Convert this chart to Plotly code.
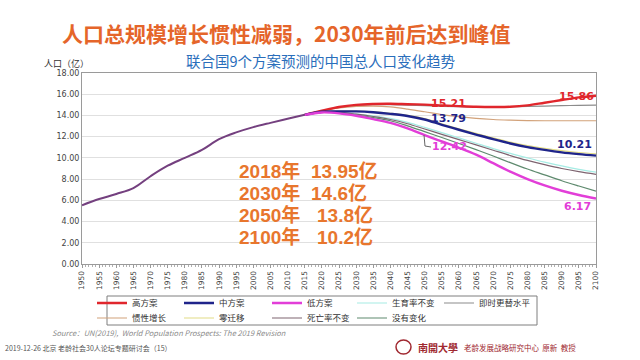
import plotly.graph_objects as go

# ---------------- data ----------------
hist_years = list(range(1950, 2020, 5))
hist_vals = [5.54, 6.12, 6.60, 7.16, 8.27, 9.26, 10.00, 10.75, 11.76, 12.40, 12.90, 13.30, 13.68, 14.06]

proj_years = list(range(2015, 2105, 5))
high = [14.06, 14.45, 14.80, 15.00, 15.08, 15.10, 15.06, 15.02, 14.95, 14.88, 14.82, 14.80, 14.82, 14.95, 15.20, 15.45, 15.70, 15.86]
medium = [14.06, 14.35, 14.38, 14.38, 14.30, 14.15, 13.95, 13.62, 13.12, 12.65, 12.20, 11.76, 11.36, 11.02, 10.75, 10.52, 10.35, 10.21]
low = [14.06, 14.28, 14.20, 13.97, 13.65, 13.30, 12.78, 12.15, 11.55, 10.95, 10.30, 9.50, 8.70, 8.00, 7.40, 6.90, 6.50, 6.17]
const_fert = [14.06, 14.32, 14.30, 14.16, 13.96, 13.72, 13.35, 12.88, 12.38, 11.88, 11.38, 10.88, 10.42, 10.00, 9.60, 9.24, 8.92, 8.65]
replacement = [14.06, 14.45, 14.75, 14.95, 15.02, 15.02, 14.98, 14.92, 14.86, 14.82, 14.80, 14.80, 14.82, 14.85, 14.88, 14.92, 14.95, 14.97]
momentum = [14.06, 14.42, 14.70, 14.85, 14.88, 14.80, 14.60, 14.35, 14.08, 13.88, 13.72, 13.62, 13.56, 13.52, 13.50, 13.50, 13.50, 13.50]
zero_mig = [14.06, 14.36, 14.40, 14.41, 14.34, 14.20, 14.01, 13.70, 13.21, 12.75, 12.31, 11.88, 11.49, 11.16, 10.90, 10.68, 10.51, 10.38]
const_mort = [14.06, 14.30, 14.28, 14.12, 13.90, 13.62, 13.22, 12.72, 12.22, 11.72, 11.22, 10.72, 10.22, 9.76, 9.36, 9.00, 8.70, 8.45]
no_change = [14.06, 14.30, 14.25, 14.05, 13.80, 13.50, 13.02, 12.48, 11.92, 11.36, 10.78, 10.18, 9.55, 8.95, 8.40, 7.85, 7.35, 6.87]

x_ticks = list(range(1950, 2105, 5))
y_ticks = list(range(0, 20, 2))

summary_years = ["2018年", "2030年", "2050年", "2100年"]
summary_vals = ["13.95亿", "14.6亿", "13.8亿", "10.2亿"]

# legend slot (row, col) for each series
# (name, values, color, width, row, col)
series = [
    ("即时更替水平", replacement, "#8C8C8C", 1.2, 0, 4),
    ("惯性增长", momentum, "#D2A27A", 1.2, 1, 0),
    ("零迁移", zero_mig, "#E2DC86", 1.2, 1, 1),
    ("生育率不变", const_fert, "#A6ECE4", 1.2, 0, 3),
    ("死亡率不变", const_mort, "#7E6470", 1.2, 1, 2),
    ("没有变化", no_change, "#5E8A6E", 1.2, 1, 3),
    ("高方案", high, "#E0262C", 2.4, 0, 0),
    ("中方案", medium, "#1F248A", 2.4, 0, 1),
    ("低方案", low, "#E23ED8", 2.4, 0, 2),
]

CJK = "Noto Sans CJK SC"
W, H = 640, 360
L, R, T, B = 82, 44, 73, 96
PW, PH = W - L - R, H - T - B


def px(xp):
    return (xp - L) / PW


def py(yp):
    return (H - B - yp) / PH


fig = go.Figure()
legend_layouts = {}
col_text_x = [130, 217, 305, 390, 477]
row_y = [303, 318]
for i, (name, vals, color, w, r, c) in enumerate(series):
    key = "legend" if i == 0 else "legend%d" % (i + 1)
    fig.add_trace(go.Scatter(
        x=proj_years, y=vals, mode="lines", name=name,
        line=dict(color=color, width=w, shape="spline"),
        legend=key,
    ))
    legend_layouts[key] = dict(
        x=px(col_text_x[c] - 38), y=py(row_y[r]), xanchor="left", yanchor="middle",
        orientation="h", font=dict(family=CJK, size=8.5, color="#333333"),
        bgcolor="rgba(0,0,0,0)", borderwidth=0, itemwidth=30,
    )

fig.add_trace(go.Scatter(
    x=hist_years, y=hist_vals, mode="lines", showlegend=False,
    line=dict(color="#74407F", width=2, shape="spline"),
))

ann = []
ann.append(dict(text="<b>人口总规模增长惯性减弱，2030年前后达到峰值</b>", x=px(286), y=py(33),
                font=dict(family=CJK, size=21, color="#E5652A")))
ann.append(dict(text="联合国9个方案预测的中国总人口变化趋势", x=px(320), y=py(60),
                font=dict(family=CJK, size=14.5, color="#2A6EBB")))
ann.append(dict(text="人口（亿）", x=px(42), y=py(63), xanchor="left",
                font=dict(family=CJK, size=9, color="#333333")))
sum_row_y = [171, 193, 215, 237]
val_x = [309, 309, 315, 315]
SUMFONT = "Liberation Sans, " + CJK
for i in range(4):
    ann.append(dict(text="<b>%s</b>" % summary_years[i], x=px(237), y=py(sum_row_y[i]), xanchor="left",
                    font=dict(family=SUMFONT, size=19, color="#E8762D")))
    ann.append(dict(text="<b>%s</b>" % summary_vals[i], x=px(val_x[i]), y=py(sum_row_y[i]), xanchor="left",
                    font=dict(family=SUMFONT, size=19, color="#E8762D")))
labels = [("15.21", 448, 103.5, "#E0262C"), ("15.86", 576, 96, "#E0262C"),
          ("13.79", 448, 118, "#1F248A"), ("10.21", 574, 144.5, "#1F248A"),
          ("12.42", 449, 146, "#E23ED8"), ("6.17", 577, 206.5, "#E23ED8")]
for t, xx, yy, c in labels:
    ann.append(dict(text="<b>%s</b>" % t, x=px(xx), y=py(yy),
                    font=dict(family="DejaVu Sans", size=11, color=c)))
ann.append(dict(text="<i>Source：UN(2019),  World Population Prospects: The 2019 Revision</i>",
                x=px(50), y=py(332), xanchor="left",
                font=dict(family=CJK, size=7.5, color="#8C8C8C")))
ann.append(dict(text="2019-12-26 北京 老龄社会30人论坛专题研讨会（15）", x=px(3), y=py(348), xanchor="left",
                font=dict(family=CJK, size=7, color="#555555")))
ann.append(dict(text="<b>南開大學</b>", x=px(416), y=py(347), xanchor="left",
                font=dict(family=CJK, size=10, color="#A02830")))
ann.append(dict(text="老龄发展战略研究中心  原新  教授", x=px(462), y=py(347), xanchor="left",
                font=dict(family=CJK, size=7.5, color="#A02830")))

for a in ann:
    a.setdefault("xanchor", "center")
    a.update(xref="paper", yref="paper", showarrow=False, yanchor="middle")

shapes = [
    dict(type="rect", xref="paper", yref="paper", x0=px(107), x1=px(537), y0=py(325), y1=py(296),
         line=dict(color="#7F7F7F", width=1)),
    dict(type="circle", xref="paper", yref="paper", x0=px(396), x1=px(411), y0=py(354), y1=py(340),
         line=dict(color="#A02830", width=1.5)),
    dict(type="path", xref="paper", yref="paper",
         path="M %f,%f L %f,%f L %f,%f" % (px(424), py(135), px(425), py(146), px(431), py(147)),
         line=dict(color="#666666", width=1)),
]

fig.update_layout(
    width=W, height=H,
    margin=dict(l=L, r=R, t=T, b=B, autoexpand=False),
    paper_bgcolor="white", plot_bgcolor="white",
    annotations=ann, shapes=shapes,
    hovermode=False,
    xaxis=dict(range=[1950, 2100], tickvals=x_ticks, tickangle=-90, showgrid=False, automargin=False,
               showline=True, linecolor="#9A9A9A", mirror=True, ticks="outside", ticklen=3,
               tickcolor="#9A9A9A", minor=dict(dtick=1, ticks="outside", ticklen=2, tickcolor="#B0B0B0"),
               tickfont=dict(family="DejaVu Sans", size=7.5, color="#444444")),
    yaxis=dict(range=[0, 18], tickvals=y_ticks, tickformat=".2f", showgrid=True, gridcolor="#E0E0E0",
               showline=True, linecolor="#9A9A9A", mirror=True, ticks="", automargin=False,
               tickfont=dict(family="DejaVu Sans", size=8, color="#444444")),
    **legend_layouts,
)

fig.write_html("out.html", config={"displayModeBar": False},
               post_script="document.body.style.margin='0';")
